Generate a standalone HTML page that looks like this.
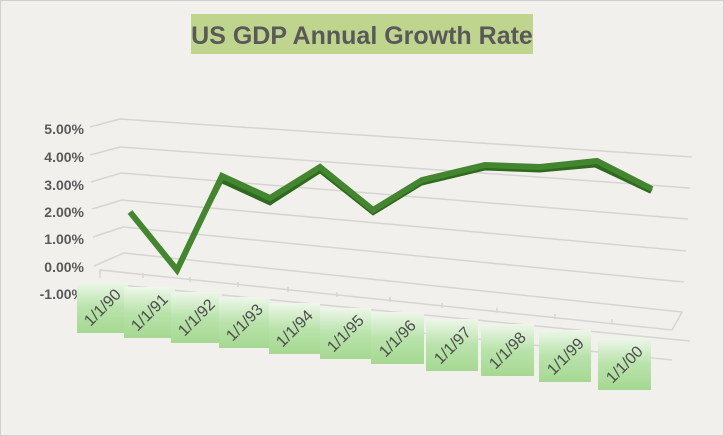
<!DOCTYPE html>
<html><head><meta charset="utf-8"><style>
body{margin:0;background:#fff}
svg{display:block;font-family:"Liberation Sans",sans-serif}
</style></head><body>
<svg width="724" height="436" viewBox="0 0 724 436">
<defs>
<linearGradient id="g" x1="0" y1="0" x2="0" y2="1">
<stop offset="0" stop-color="#eef7ea"/><stop offset="0.5" stop-color="#b9e3ab"/><stop offset="1" stop-color="#a6d892"/>
</linearGradient>
</defs>
<rect x="0.5" y="0.5" width="723" height="435" fill="#f1f0ec" stroke="#d0d0d0"/>
<rect x="191" y="14" width="342" height="40" fill="#bfd58e"/>
<text x="362" y="44" text-anchor="middle" font-size="25" font-weight="bold" fill="#595959">US GDP Annual Growth Rate</text>
<g stroke="#d6d5d3" stroke-width="1.5" fill="none">
<polyline points="90,127 120,119 692,157"/>
<polyline points="90,155 120,147 690,188"/>
<polyline points="91,182 121,173 688,219"/>
<polyline points="92,209 122,200 686,251"/>
<polyline points="93,237 123,227 684,282"/>
<polyline points="94,266 124,253 682,312 672,330 100,270 100,278"/>
<line x1="100" y1="283" x2="690" y2="341"/>
<line x1="100" y1="298" x2="672" y2="360"/>
</g>
<g stroke="#d6d5d3" stroke-width="1.5">
<line x1="143" y1="273" x2="143" y2="278"/><line x1="190" y1="277" x2="190" y2="282"/>
<line x1="238" y1="282" x2="238" y2="287"/><line x1="288" y1="287" x2="288" y2="292"/>
<line x1="337" y1="292" x2="337" y2="297"/><line x1="390" y1="297" x2="390" y2="302"/>
<line x1="442" y1="303" x2="442" y2="308"/><line x1="497" y1="308" x2="497" y2="313"/>
<line x1="555" y1="314" x2="555" y2="319"/><line x1="612" y1="319" x2="612" y2="324"/>
</g>
<g font-size="14" font-weight="bold" fill="#595959" text-anchor="end">
<text x="84" y="134">5.00%</text><text x="84" y="162">4.00%</text><text x="84" y="190">3.00%</text>
<text x="84" y="217">2.00%</text><text x="84" y="244">1.00%</text><text x="84" y="272">0.00%</text>
<text x="84" y="299">-1.00%</text>
</g>
<polygon points="130,212 177,270 222,176 270,198 320,167 373,210 422,180 485,165 540,167 597,161 652,189 650,193 595,167 540,172 485,170 422,185 373,215 320,173 270,205 222,183 177,271" fill="#2f6a1e" stroke="#2f6a1e" stroke-width="1"/>
<polyline points="130,212 177,270 222,176 270,198 320,167 373,210 422,180 485,165 540,167 597,161 652,189" fill="none" stroke="#43862f" stroke-width="6" stroke-linejoin="miter"/>
<g font-size="16" fill="#4d4d4d">
<g transform="translate(102,307)"><rect x="-25" y="-25" width="51" height="51" fill="url(#g)"/><text transform="rotate(-45)" text-anchor="middle" y="6">1/1/90</text></g>
<g transform="translate(149,312)"><rect x="-25" y="-25" width="51" height="51" fill="url(#g)"/><text transform="rotate(-45)" text-anchor="middle" y="6">1/1/91</text></g>
<g transform="translate(196,317)"><rect x="-25" y="-25" width="51" height="51" fill="url(#g)"/><text transform="rotate(-45)" text-anchor="middle" y="6">1/1/92</text></g>
<g transform="translate(244,322)"><rect x="-25" y="-25" width="51" height="51" fill="url(#g)"/><text transform="rotate(-45)" text-anchor="middle" y="6">1/1/93</text></g>
<g transform="translate(294,328)"><rect x="-25" y="-25" width="51" height="51" fill="url(#g)"/><text transform="rotate(-45)" text-anchor="middle" y="6">1/1/94</text></g>
<g transform="translate(345,333)"><rect x="-25" y="-25" width="51" height="51" fill="url(#g)"/><text transform="rotate(-45)" text-anchor="middle" y="6">1/1/95</text></g>
<g transform="translate(397,338)"><rect x="-26" y="-26" width="53" height="52" fill="url(#g)"/><text transform="rotate(-45)" text-anchor="middle" y="6">1/1/96</text></g>
<g transform="translate(452,345)"><rect x="-26" y="-26" width="52" height="52" fill="url(#g)"/><text transform="rotate(-45)" text-anchor="middle" y="6">1/1/97</text></g>
<g transform="translate(507,350)"><rect x="-26" y="-26" width="53" height="52" fill="url(#g)"/><text transform="rotate(-45)" text-anchor="middle" y="6">1/1/98</text></g>
<g transform="translate(565,356)"><rect x="-26" y="-26" width="52" height="52" fill="url(#g)"/><text transform="rotate(-45)" text-anchor="middle" y="6">1/1/99</text></g>
<g transform="translate(624,364)"><rect x="-26" y="-26" width="53" height="52" fill="url(#g)"/><text transform="rotate(-45)" text-anchor="middle" y="6">1/1/00</text></g>
</g>
</svg>
</body></html>
